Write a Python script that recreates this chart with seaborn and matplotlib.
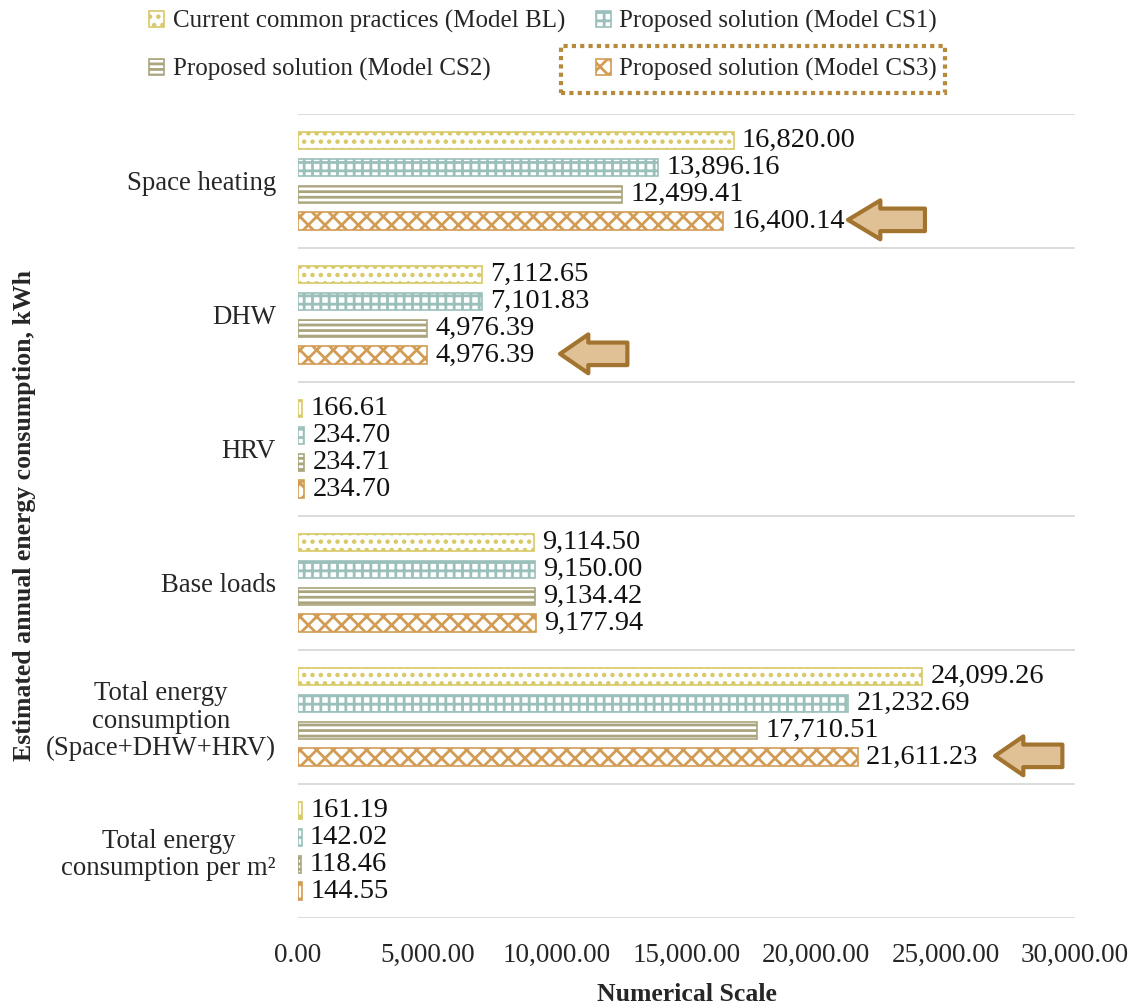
import numpy as np
import pandas as pd
import matplotlib
matplotlib.use("Agg")
import matplotlib.pyplot as plt
from matplotlib.patches import Patch, Polygon, Rectangle
import seaborn as sns

categories = ["Space heating", "DHW", "HRV", "Base loads",
              "Total energy\nconsumption\n(Space+DHW+HRV)",
              "Total energy\nconsumption per m²"]
models = ["Current common practices (Model BL)", "Proposed solution (Model CS1)",
          "Proposed solution (Model CS2)", "Proposed solution (Model CS3)"]
bl = [16820.00, 7112.65, 166.61, 9114.50, 24099.26, 161.19]
cs1 = [13896.16, 7101.83, 234.70, 9150.00, 21232.69, 142.02]
cs2 = [12499.41, 4976.39, 234.71, 9134.42, 17710.51, 118.46]
cs3 = [16400.14, 4976.39, 234.70, 9177.94, 21611.23, 144.55]
xticks = [0, 5000, 10000, 15000, 20000, 25000, 30000]
# categories flagged with an arrow next to the CS3 bar
flagged = ["Space heating", "DHW", "Total energy\nconsumption\n(Space+DHW+HRV)"]

colors = ["#d8c867", "#9bbfba", "#aaa57e", "#d29c55"]
hatches = ["..", "++", "---", "xx"]

# arrow placement: (gap after the bar end, arrow length), in kWh units
arrow_layout = [(4835, 2970), (5140, 2600), (5300, 2600)]

df = pd.DataFrame({
    "category": categories * 4,
    "model": np.repeat(models, len(categories)),
    "value": bl + cs1 + cs2 + cs3,
})

sns.set_theme(style="white")
plt.rcParams["font.family"] = ["Liberation Serif", "DejaVu Serif"]
plt.rcParams["hatch.linewidth"] = 2.0

fig = plt.figure(figsize=(11.34, 10.06), dpi=100)
ax = fig.add_axes([0.2628, 0.0875, 0.6852, 0.7992])

sns.barplot(data=df, y="category", x="value", hue="model", orient="h",
            order=categories, hue_order=models, palette=colors,
            width=0.8, gap=0.35, ax=ax, legend=False)

for cont, col, h in zip(ax.containers, colors, hatches):
    for bar in cont:
        bar.set_facecolor("white")
        bar.set_edgecolor(col)
        bar.set_hatch(h)
        bar.set_linewidth(1.2)
    ax.bar_label(cont, labels=[f"{b.get_width():,.2f}" for b in cont],
                 padding=6, fontsize=20.5, color="#111111")

ax.set_xlim(0, 30000)
ax.set_ylim(len(categories) - 0.5, -0.5)
ax.set_xticks(xticks)
ax.set_xticklabels([f"{t:,.2f}" for t in xticks], fontsize=19.5)
ax.tick_params(axis="x", length=0, pad=18)
ax.tick_params(axis="y", length=0, pad=16)
for lbl in ax.get_yticklabels():
    lbl.set_fontsize(19.3)
    lbl.set_multialignment("center")
    lbl.set_linespacing(1.12)
for s in ax.spines.values():
    s.set_visible(False)
for yb in np.arange(-0.5, len(categories), 1.0):
    ax.axhline(yb, color="#d9d9d9", lw=1.3, zorder=0)

ax.set_xlabel("Numerical Scale", fontsize=18.5, fontweight="bold", labelpad=11)
ax.set_ylabel("Estimated annual energy consumption, kWh", fontsize=18.5,
              fontweight="bold")
ax.yaxis.set_label_coords(-0.337, 0.5)

# left-pointing arrows beside the flagged CS3 bars
def left_arrow(x_tip, x_tail, yc, h):
    head = (x_tail - x_tip) * 0.42
    sh = h * 0.29
    pts = [(x_tip, yc), (x_tip + head, yc - h / 2), (x_tip + head, yc - sh),
           (x_tail, yc - sh), (x_tail, yc + sh), (x_tip + head, yc + sh),
           (x_tip + head, yc + h / 2)]
    return Polygon(pts, closed=True, facecolor="#dfc195", edgecolor="#a27430",
                   lw=3, joinstyle="round", zorder=5, clip_on=False)

for cat, (gap, length) in zip(flagged, arrow_layout):
    i = categories.index(cat)
    x_tip = cs3[i] + gap
    ax.add_patch(left_arrow(x_tip, x_tip + length, i + 0.29, 0.29))

handles = [Patch(facecolor="white", edgecolor=c, hatch=h, lw=1.2)
           for c, h in zip(colors, hatches)]
order = [0, 2, 1, 3]
leg = fig.legend([handles[k] for k in order], [models[k] for k in order],
                 loc="upper left", bbox_to_anchor=(0.123, 1.0), ncol=2,
                 frameon=False, fontsize=18, handlelength=0.6, handleheight=0.6,
                 handletextpad=0.35, columnspacing=1.2, labelspacing=1.0,
                 borderaxespad=0.0)

fig.canvas.draw()
r = fig.canvas.get_renderer()
txt = leg.get_texts()[3]
tb = txt.get_window_extent(r)
hb = leg.legend_handles[3].get_window_extent(r)
x0 = hb.x0 - 35
x1 = tb.x1 + 8
y0 = tb.y0 - 12
y1 = tb.y1 + 12
fig.patches.append(Rectangle((x0, y0), x1 - x0, y1 - y0, transform=None,
                             fill=False, edgecolor="#b58a3c", lw=3,
                             linestyle=(0, (1, 1))))

fig.savefig("out.png", dpi=100)
